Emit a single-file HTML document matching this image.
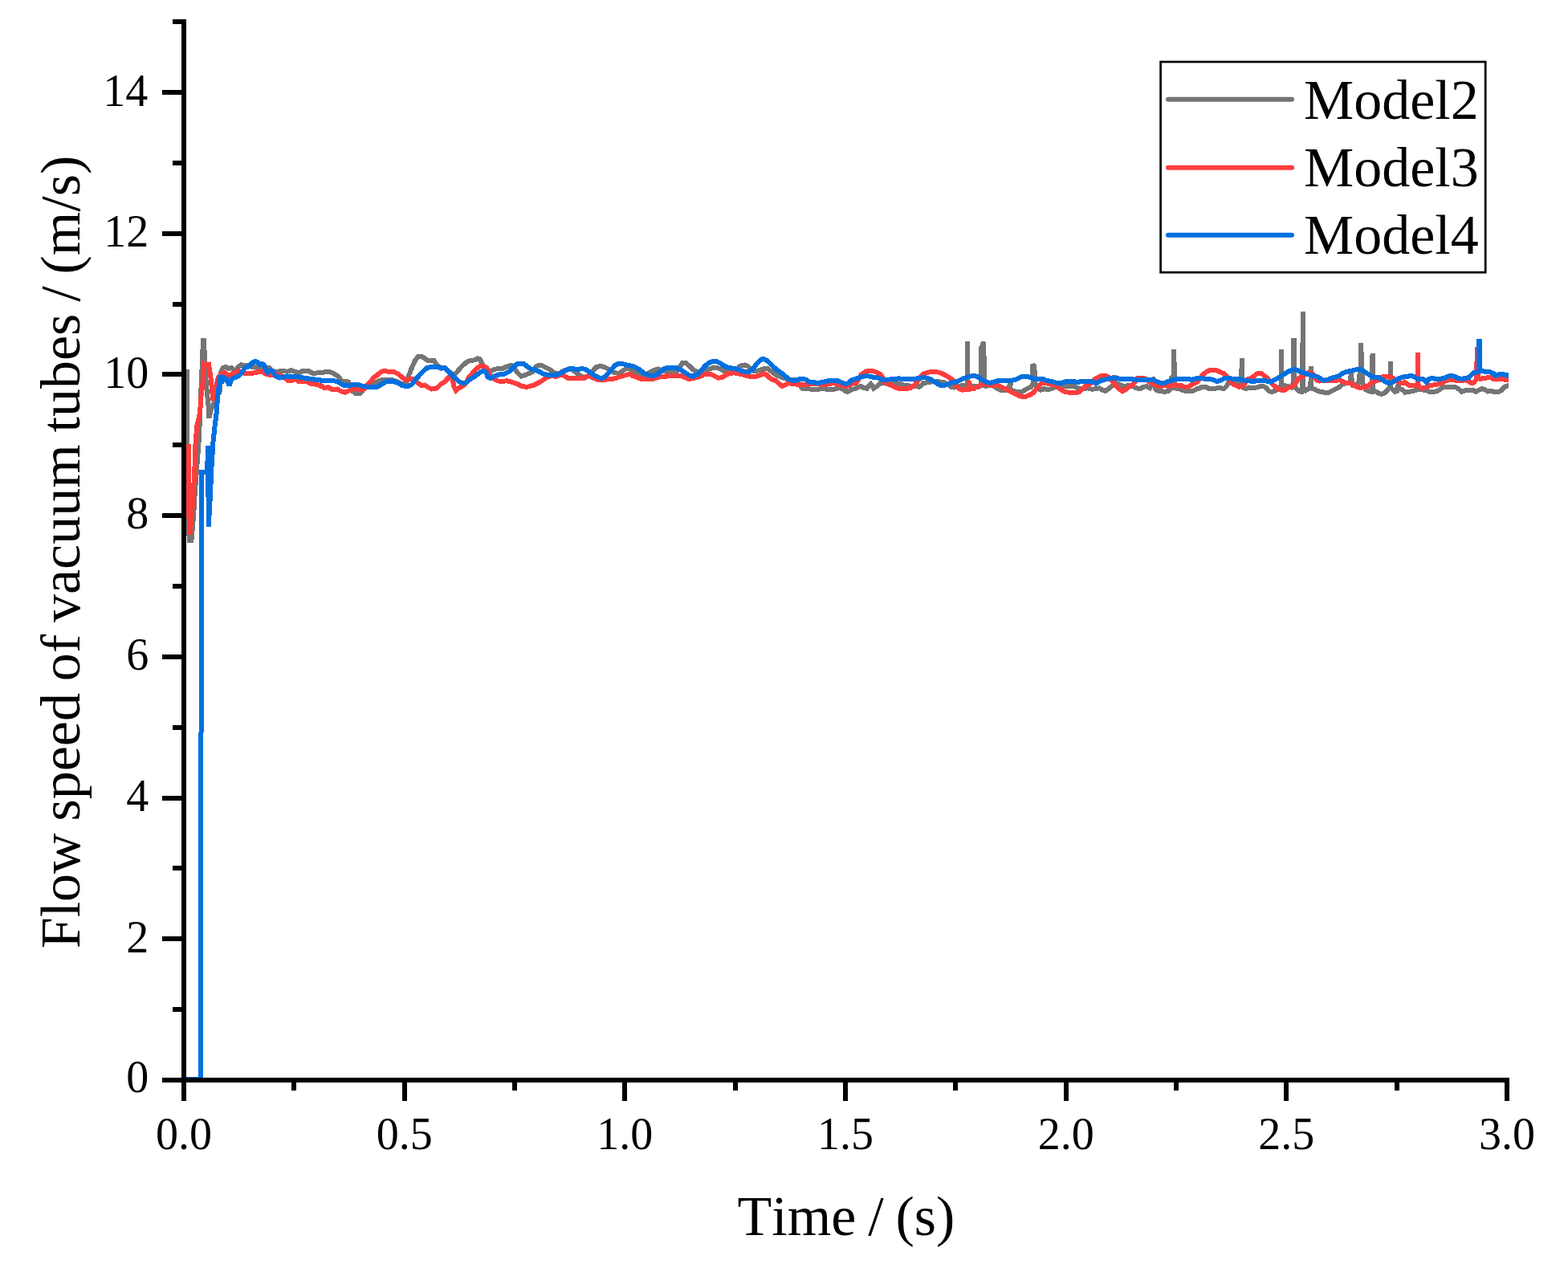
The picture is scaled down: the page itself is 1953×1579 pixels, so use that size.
<!DOCTYPE html>
<html lang="en">
<head>
<meta charset="utf-8">
<title>Flow speed of vacuum tubes</title>
<style>
html,body{margin:0;padding:0;background:#fff;}
body{width:1953px;height:1579px;overflow:hidden;}
svg{display:block;}
text{font-family:"Liberation Serif",serif;fill:#000;font-kerning:none;}
.tick{font-size:56px;}
.title{font-size:70px;word-spacing:-2.6px;}
.series{fill:none;stroke-width:6;stroke-linejoin:miter;stroke-miterlimit:2;stroke-linecap:butt;}
</style>
</head>
<body>
<svg width="1953" height="1579" viewBox="0 0 1953 1579">
<rect x="0" y="0" width="1953" height="1579" fill="#ffffff"/>

<defs><clipPath id="plotclip"><rect x="229" y="20" width="1650" height="1328"/></clipPath></defs>
<g class="series" clip-path="url(#plotclip)" shape-rendering="crispEdges">
<path d="M233.0,460.0 L233.2,640.0 L236.0,672.5 L238.5,672.5 L240.0,655.0 L241.2,640.0 L243.0,610.0 L245.0,585.0 L246.5,565.0 L248.0,544.0 L249.0,520.0 L250.0,495.0 L251.5,460.0 L253.0,424.0 L254.0,424.0 L255.5,460.0 L257.5,485.0 L259.5,505.0 L260.2,520.4 L263.0,510.0 L267.0,500.0 L273.5,488.0 L274.8,464.0 L278.0,458.0 L281.0,457.0 L285.0,459.0 L288.6,458.0 L292.7,463.0 L296.0,458.0 L300.4,454.0 L302.6,455.2 L307.7,455.2 L311.8,456.2 L315.4,457.3 L325.6,457.3 L328.7,457.8 L331.7,458.3 L335.8,458.3 L338.4,460.8 L343.5,463.4 L348.6,462.2 L353.8,462.1 L357.9,462.9 L362.5,461.1 L369.1,463.4 L372.7,464.4 L376.8,462.1 L384.5,462.1 L389.6,464.9 L392.2,464.7 L394.7,464.4 L399.3,464.4 L400.0,464.5 L403.8,463.3 L408.4,462.6 L413.8,464.1 L420.0,467.9 L423.0,470.3 L425.3,474.9 L430.7,474.9 L433.8,475.6 L436.1,479.5 L438.4,486.4 L443.0,490.2 L447.6,490.2 L452.2,485.6 L456.8,480.2 L463.0,478.7 L469.1,475.6 L475.3,473.3 L480.6,472.6 L488.3,472.9 L493.7,474.9 L499.8,477.9 L506.0,477.2 L509.1,467.9 L512.9,458.0 L516.7,449.5 L520.6,444.1 L524.4,443.8 L528.3,445.7 L532.1,448.7 L536.7,448.7 L540.6,449.1 L543.6,454.1 L549.0,458.7 L550.0,458.7 L554.6,458.0 L559.2,462.6 L565.4,467.2 L569.2,463.3 L573.0,458.7 L577.6,454.1 L582.3,450.3 L586.9,448.7 L591.5,448.4 L595.3,446.4 L597.6,447.2 L599.9,451.8 L603.0,458.0 L606.8,461.8 L611.4,461.8 L615.3,460.3 L620.7,458.7 L626.8,458.7 L631.4,456.4 L636.0,454.9 L639.1,455.7 L642.2,461.0 L646.0,465.6 L649.1,468.7 L653.7,467.2 L659.1,464.9 L663.7,462.6 L667.5,456.4 L671.4,454.9 L675.2,455.3 L680.6,458.0 L685.2,460.3 L689.8,464.1 L694.4,465.6 L699.0,464.5 L700.0,462.6 L704.6,460.7 L710.0,459.7 L713.8,461.0 L719.2,465.3 L723.8,468.7 L728.4,470.4 L733.0,468.3 L736.1,464.5 L739.2,461.0 L743.0,457.2 L747.6,456.0 L752.2,456.8 L757.6,459.5 L761.4,461.8 L765.3,464.1 L770.7,464.9 L773.7,463.3 L776.8,461.0 L780.6,459.1 L784.5,459.5 L788.3,461.8 L792.2,464.9 L796.0,466.4 L801.4,467.2 L806.0,465.6 L810.6,463.3 L815.2,461.0 L819.8,459.5 L824.4,461.0 L830.6,463.3 L838.2,463.3 L842.9,462.6 L845.9,458.0 L849.0,453.4 L850.0,451.8 L853.8,451.8 L857.7,454.9 L861.5,458.7 L865.4,461.8 L870.0,463.3 L875.3,467.2 L879.2,463.3 L883.0,459.5 L888.4,458.0 L893.0,458.0 L897.6,459.5 L902.2,462.6 L906.8,463.3 L911.4,464.9 L916.1,463.3 L920.7,456.4 L923.7,454.9 L927.6,454.5 L931.4,456.0 L934.5,458.7 L938.3,461.8 L942.2,461.8 L946.8,461.0 L951.4,459.1 L956.0,458.7 L959.8,461.8 L963.7,464.9 L968.3,467.9 L972.9,469.5 L979.0,471.8 L984.4,472.6 L989.8,473.3 L994.4,477.2 L999.0,483.3 L1000.0,484.1 L1006.1,484.1 L1010.8,484.8 L1020.0,484.8 L1023.8,483.3 L1029.2,484.8 L1039.9,484.5 L1044.5,483.3 L1049.9,484.1 L1053.0,487.2 L1055.3,487.9 L1058.4,486.4 L1061.4,484.8 L1065.3,484.1 L1069.1,481.8 L1072.2,481.0 L1076.0,483.3 L1079.9,483.7 L1082.2,480.2 L1084.5,477.9 L1086.4,480.2 L1088.3,483.7 L1092.2,481.0 L1096.0,477.9 L1099.8,477.2 L1103.7,477.2 L1107.5,478.7 L1111.4,477.9 L1115.2,477.2 L1119.8,477.5 L1124.4,479.1 L1128.3,480.2 L1134.4,480.6 L1140.0,481.0 L1144.4,481.8 L1147.5,480.2 L1149.8,477.9 L1150.0,477.2 L1154.6,476.4 L1159.2,475.6 L1165.4,474.9 L1171.5,475.6 L1176.1,476.4 L1180.7,478.7 L1184.6,481.8 L1188.4,482.5 L1193.0,481.8 L1197.6,480.2 L1202.2,479.9 L1205.1,479.5 L1205.1,425.0 L1205.1,479.5 L1208.4,480.2 L1213.7,481.0 L1219.1,481.8 L1221.8,480.2 L1221.8,434.9 L1225.3,425.7 L1225.7,457.2 L1226.0,480.2 L1228.3,481.0 L1232.9,479.5 L1236.8,480.2 L1241.4,483.3 L1246.0,485.6 L1251.4,486.4 L1256.0,484.8 L1258.7,474.6 L1258.3,484.8 L1262.9,487.2 L1268.3,488.3 L1272.9,487.9 L1276.7,485.6 L1280.6,483.3 L1284.4,481.8 L1286.7,477.2 L1286.0,453.9 L1287.9,456.0 L1289.0,465.6 L1289.4,477.2 L1290.6,481.0 L1292.9,484.1 L1295.9,485.6 L1299.8,484.8 L1300.0,484.1 L1304.6,484.8 L1308.4,484.5 L1313.1,482.5 L1316.9,481.0 L1323.0,481.0 L1327.6,481.4 L1332.3,481.0 L1336.9,481.0 L1341.5,482.9 L1346.1,484.1 L1350.7,484.1 L1355.3,483.3 L1359.9,484.8 L1364.5,484.1 L1369.1,483.3 L1373.0,485.6 L1376.8,486.8 L1379.9,484.8 L1383.7,481.8 L1386.8,479.5 L1387.9,467.2 L1389.1,478.7 L1392.2,477.9 L1396.0,479.9 L1399.8,481.0 L1406.0,480.2 L1410.6,481.0 L1415.2,483.3 L1419.8,484.1 L1424.4,481.8 L1428.3,481.0 L1432.1,483.3 L1435.2,477.2 L1435.8,469.9 L1437.5,477.2 L1439.0,484.1 L1441.3,486.4 L1445.9,486.8 L1449.8,487.9 L1450.0,487.9 L1454.6,487.2 L1457.3,484.8 L1458.6,471.0 L1461.5,467.9 L1462.0,435.1 L1462.6,454.1 L1462.8,483.3 L1469.2,484.1 L1473.0,486.4 L1479.2,486.8 L1485.3,487.2 L1489.9,484.8 L1494.5,483.3 L1497.6,481.8 L1502.2,482.2 L1506.1,484.1 L1511.4,484.1 L1516.1,483.3 L1520.7,483.3 L1524.5,484.1 L1527.6,481.0 L1529.9,477.2 L1536.0,477.2 L1542.2,477.2 L1545.6,477.2 L1546.4,463.3 L1546.9,446.2 L1547.4,463.3 L1547.5,477.2 L1549.1,483.3 L1552.2,484.1 L1556.0,482.5 L1560.6,483.3 L1565.2,482.5 L1569.8,481.0 L1572.9,481.0 L1576.7,482.5 L1580.6,487.2 L1583.6,487.9 L1587.5,487.2 L1591.3,484.1 L1595.5,481.0 L1596.1,435.0 L1596.3,481.0 L1599.8,480.2 L1600.0,480.2 L1604.6,481.0 L1608.4,482.5 L1610.8,477.2 L1611.1,424.2 L1611.7,424.2 L1612.1,438.8 L1612.3,481.0 L1615.4,484.8 L1618.4,487.2 L1621.5,487.9 L1622.4,438.8 L1622.9,391.1 L1623.2,391.1 L1623.3,484.8 L1626.1,486.4 L1629.2,484.1 L1632.3,483.3 L1633.0,456.2 L1633.4,483.3 L1634.6,484.1 L1637.6,484.8 L1641.5,487.2 L1646.1,487.9 L1650.7,489.1 L1655.3,488.7 L1659.9,486.4 L1664.5,484.1 L1668.4,481.8 L1672.2,478.7 L1676.8,477.2 L1681.4,477.2 L1683.0,463.8 L1683.9,477.2 L1684.9,479.9 L1688.3,479.5 L1692.2,477.2 L1694.9,454.1 L1695.3,427.4 L1695.8,454.1 L1697.4,477.2 L1700.6,484.8 L1704.5,487.2 L1708.7,487.9 L1709.5,443.4 L1710.0,443.4 L1710.2,487.2 L1712.9,487.2 L1716.7,489.5 L1720.6,491.0 L1724.4,489.5 L1728.3,485.6 L1731.0,482.5 L1732.0,450.4 L1732.5,482.5 L1733.6,484.1 L1737.5,487.9 L1739.8,487.2 L1741.1,479.1 L1742.9,484.1 L1745.9,484.8 L1749.8,488.3 L1750.0,488.7 L1754.6,487.9 L1759.2,487.2 L1763.8,485.6 L1768.4,484.8 L1773.0,485.6 L1776.9,486.4 L1780.7,487.9 L1785.3,487.9 L1789.9,487.2 L1793.8,484.8 L1797.6,481.8 L1802.2,482.2 L1807.6,481.8 L1812.2,481.8 L1816.1,484.1 L1820.7,487.9 L1824.5,486.4 L1827.6,485.6 L1830.6,486.4 L1834.5,485.6 L1838.3,487.9 L1842.2,485.6 L1846.0,484.1 L1849.1,484.8 L1852.9,487.5 L1857.5,487.2 L1862.1,487.9 L1866.7,487.9 L1870.6,485.6 L1874.4,481.8 L1879.0,479.9 L1882.1,479.5" stroke="#757575"/>
<path d="M235.3,553.0 L235.3,640.0 L236.4,665.8 L238.5,645.0 L240.5,620.0 L242.6,580.0 L243.3,556.0 L245.2,531.0 L248.0,520.0 L249.8,505.0 L250.3,495.0 L252.2,480.0 L254.3,453.0 L257.5,455.0 L260.0,454.0 L261.0,460.0 L262.0,466.0 L263.5,480.0 L265.4,498.5 L268.0,485.0 L272.0,470.0 L276.0,465.0 L280.4,464.0 L285.0,468.5 L290.0,465.0 L296.8,462.0 L300.0,464.0 L304.1,464.7 L314.8,464.7 L319.5,463.7 L320.5,462.6 L326.6,462.6 L330.7,465.5 L336.9,467.0 L344.0,466.0 L351.2,468.5 L358.9,473.9 L364.0,473.9 L368.1,471.6 L371.7,474.7 L381.9,474.7 L387.0,477.7 L394.7,478.8 L399.3,480.6 L400.0,480.2 L403.8,483.3 L408.4,482.2 L413.8,484.8 L420.0,484.5 L424.6,487.2 L430.0,488.7 L434.6,486.4 L439.9,484.1 L444.5,484.1 L449.9,485.6 L453.8,484.1 L459.9,477.2 L465.3,470.3 L470.7,466.4 L475.3,462.6 L480.6,462.2 L484.5,463.0 L490.6,463.0 L496.0,465.6 L501.4,470.3 L506.0,473.3 L511.4,471.8 L515.2,471.8 L519.8,476.4 L524.4,479.9 L529.0,479.5 L533.6,482.5 L537.5,484.5 L542.1,484.1 L545.9,481.8 L549.4,478.3 L550.0,477.9 L554.6,474.9 L558.4,470.3 L561.5,468.7 L563.7,471.8 L565.4,481.0 L568.0,486.5 L570.7,483.7 L574.6,481.6 L577.6,480.1 L580.7,476.8 L583.8,469.5 L588.4,464.9 L593.0,459.5 L597.6,456.0 L602.2,456.0 L606.1,458.0 L609.1,464.1 L611.4,469.5 L615.3,471.8 L620.7,474.5 L626.8,474.9 L631.4,474.1 L636.8,475.6 L643.7,477.9 L649.1,480.6 L654.5,481.8 L659.1,481.4 L665.2,479.5 L671.4,476.4 L677.5,472.6 L682.1,469.5 L686.7,468.3 L692.9,468.7 L699.4,466.8 L700.0,466.4 L703.8,468.7 L707.7,471.0 L713.8,471.4 L720.0,471.4 L726.1,471.0 L730.7,468.7 L734.6,468.3 L738.4,470.3 L743.8,472.6 L749.2,473.3 L753.8,472.9 L759.9,471.8 L766.1,471.4 L770.7,469.5 L776.8,467.9 L781.4,466.4 L784.5,465.6 L787.6,467.9 L792.2,469.5 L798.3,471.8 L803.7,472.2 L809.1,471.8 L813.7,471.8 L818.3,470.3 L822.9,469.1 L829.0,468.7 L835.2,467.9 L842.1,467.9 L849.4,468.3 L850.0,468.7 L853.8,470.3 L857.7,471.8 L862.3,471.4 L866.9,470.3 L871.5,468.7 L876.1,466.4 L880.7,465.6 L885.3,466.0 L889.9,468.3 L894.5,470.6 L899.2,470.3 L903.8,467.2 L908.4,464.9 L913.0,464.1 L919.1,465.3 L925.3,466.4 L931.4,468.3 L936.0,469.5 L942.2,468.7 L946.8,467.2 L951.4,465.3 L954.5,466.4 L958.3,470.3 L962.1,472.6 L966.7,474.1 L970.6,477.9 L974.4,481.0 L977.5,479.5 L982.1,477.2 L986.7,477.9 L992.1,478.7 L999.4,479.1 L1000.0,479.1 L1004.6,478.7 L1009.2,478.3 L1015.4,477.9 L1021.5,478.7 L1027.6,479.1 L1033.0,477.9 L1038.4,477.2 L1043.0,477.9 L1047.6,480.2 L1053.8,481.0 L1058.4,479.5 L1063.0,477.2 L1066.8,476.8 L1069.5,472.2 L1072.6,466.4 L1077.6,463.2 L1082.2,461.8 L1086.0,461.8 L1090.6,463.0 L1094.5,464.9 L1097.5,467.2 L1099.8,471.0 L1101.4,475.6 L1104.5,477.9 L1108.3,478.3 L1111.4,480.2 L1115.2,482.5 L1119.0,483.7 L1124.4,483.7 L1130.6,483.7 L1135.2,482.5 L1139.0,479.5 L1142.9,474.9 L1145.9,469.5 L1149.4,466.0 L1150.0,465.6 L1154.6,464.1 L1159.2,463.0 L1165.4,463.0 L1170.7,464.1 L1176.1,466.4 L1180.7,469.1 L1184.6,471.8 L1188.4,475.6 L1191.5,481.0 L1194.5,484.1 L1199.2,485.6 L1203.8,485.2 L1206.5,484.5 L1206.8,473.9 L1207.2,484.5 L1208.4,484.5 L1213.0,484.1 L1216.8,481.8 L1220.7,480.2 L1223.7,478.7 L1226.8,477.9 L1230.6,478.7 L1234.5,479.9 L1239.1,480.2 L1243.7,480.2 L1248.3,482.5 L1253.7,484.8 L1259.1,487.5 L1263.7,490.2 L1268.3,492.5 L1272.9,494.1 L1277.5,493.7 L1282.1,492.1 L1286.7,489.5 L1290.6,484.8 L1294.4,480.2 L1297.5,477.2 L1299.8,476.0 L1300.0,476.4 L1306.1,477.9 L1311.5,479.1 L1316.1,481.0 L1320.7,484.5 L1325.3,487.5 L1330.7,488.7 L1336.1,488.7 L1340.7,489.1 L1344.5,487.9 L1348.4,484.1 L1352.2,481.0 L1356.8,478.7 L1360.7,475.6 L1363.7,471.8 L1367.6,470.3 L1371.4,467.9 L1375.3,467.6 L1379.1,468.7 L1382.9,471.0 L1386.0,475.6 L1389.9,480.2 L1393.7,484.1 L1398.3,487.2 L1402.2,484.8 L1406.0,481.8 L1410.6,479.5 L1413.7,475.6 L1415.2,471.8 L1418.3,470.6 L1422.9,470.6 L1426.7,471.8 L1430.6,474.9 L1434.4,477.2 L1438.2,478.7 L1442.1,480.6 L1445.9,481.0 L1449.8,479.9 L1450.0,479.5 L1454.6,481.0 L1459.2,480.2 L1465.4,479.9 L1471.5,480.2 L1475.3,481.8 L1480.0,482.2 L1483.8,479.5 L1488.4,477.2 L1491.5,475.6 L1494.5,471.0 L1498.4,466.4 L1502.2,463.3 L1506.1,461.4 L1510.7,460.7 L1515.3,461.4 L1519.9,463.3 L1523.7,464.9 L1527.6,467.9 L1530.6,471.0 L1532.9,475.6 L1536.0,478.7 L1539.9,480.2 L1543.7,481.8 L1547.5,481.0 L1550.6,477.2 L1553.7,472.6 L1557.5,471.0 L1561.4,468.7 L1565.2,465.6 L1568.3,464.9 L1571.4,465.3 L1574.4,467.9 L1578.3,470.3 L1581.3,474.1 L1585.2,478.7 L1589.0,481.8 L1592.9,484.8 L1596.7,486.0 L1599.8,485.6 L1600.0,485.6 L1603.8,483.3 L1607.7,481.8 L1611.5,480.2 L1614.6,475.6 L1617.7,471.0 L1620.0,469.5 L1623.8,467.9 L1626.9,464.9 L1630.7,464.1 L1633.8,464.9 L1636.9,467.9 L1639.9,473.3 L1643.8,474.5 L1649.2,474.1 L1653.8,474.1 L1658.4,474.1 L1663.7,473.7 L1669.1,473.3 L1673.0,475.6 L1676.8,477.2 L1681.4,477.2 L1684.5,477.9 L1688.3,481.0 L1692.2,482.5 L1696.8,482.5 L1702.2,481.8 L1706.0,478.7 L1709.8,475.6 L1714.4,474.1 L1717.5,473.3 L1721.4,469.5 L1726.0,468.7 L1730.6,468.7 L1734.4,470.3 L1737.5,472.6 L1741.3,475.6 L1745.9,477.2 L1749.8,476.8 L1750.0,476.4 L1754.6,479.5 L1759.2,480.2 L1763.1,480.2 L1765.6,478.3 L1765.6,439.3 L1766.0,446.4 L1766.1,478.3 L1768.4,481.8 L1771.5,484.1 L1775.3,482.5 L1780.7,480.2 L1785.3,479.5 L1789.9,478.7 L1794.5,477.2 L1799.2,474.9 L1803.8,473.3 L1808.4,472.6 L1811.4,473.3 L1815.3,474.5 L1820.7,474.1 L1825.3,473.3 L1829.1,474.9 L1832.9,477.2 L1836.0,476.4 L1838.9,471.8 L1840.0,432.4 L1840.6,469.5 L1843.7,471.8 L1848.3,471.0 L1852.9,470.3 L1856.8,469.9 L1859.8,471.8 L1863.7,472.6 L1867.5,471.4 L1871.4,471.8 L1876.0,473.3 L1879.0,473.3 L1882.1,473.3" stroke="#FF3D3D"/>
<path d="M229.0,1344.0 L249.9,1344.0 L251.0,588.0 L258.0,588.0 L259.2,555.1 L259.7,655.9 L261.0,633.0 L262.0,615.0 L263.0,592.0 L264.0,571.0 L265.0,561.0 L265.3,551.7 L267.5,531.2 L269.5,515.8 L270.6,500.5 L271.6,490.2 L272.5,482.6 L273.3,473.0 L274.2,467.3 L275.8,477.3 L278.9,470.2 L282.1,472.0 L285.6,480.2 L288.4,472.5 L291.3,470.5 L296.8,468.5 L300.0,465.5 L305.1,458.3 L310.2,456.0 L314.3,451.6 L317.9,450.1 L320.5,450.6 L323.0,453.7 L326.6,453.2 L329.2,454.7 L331.7,461.9 L333.3,463.9 L336.9,461.4 L339.9,462.9 L343.5,468.5 L348.6,470.6 L353.8,469.0 L361.4,468.5 L371.7,469.5 L381.9,471.1 L392.2,472.6 L399.3,473.4 L400.0,474.1 L407.7,474.5 L415.4,474.1 L421.5,475.6 L426.9,479.5 L434.6,480.2 L439.9,479.1 L446.1,479.1 L452.2,481.0 L461.4,482.2 L469.1,482.2 L475.3,478.7 L481.4,474.9 L488.3,474.5 L494.5,476.4 L501.4,480.2 L507.5,481.4 L512.9,478.7 L519.0,471.0 L526.7,462.6 L532.1,458.0 L538.2,456.8 L544.4,457.2 L549.4,458.0 L550.0,458.0 L554.6,458.7 L559.2,463.3 L565.4,469.5 L571.5,474.9 L576.1,477.2 L580.7,476.4 L585.3,472.6 L591.5,468.7 L597.6,464.1 L602.2,461.8 L605.3,463.3 L607.6,469.5 L610.7,471.0 L615.3,468.7 L621.4,466.4 L628.3,465.6 L634.5,462.6 L639.1,458.0 L643.7,453.4 L649.1,452.6 L652.9,453.4 L657.5,457.2 L661.4,459.5 L666.7,460.3 L671.4,462.6 L676.7,465.6 L682.1,466.8 L688.2,467.2 L694.4,466.4 L699.4,464.1 L700.0,464.1 L704.6,461.0 L710.0,459.1 L715.4,459.5 L720.0,459.9 L724.6,459.1 L729.2,459.9 L734.6,463.3 L739.9,467.2 L744.5,469.9 L749.2,471.0 L753.0,469.5 L757.6,464.9 L762.2,459.5 L766.1,454.9 L769.9,453.0 L775.3,453.0 L780.6,454.5 L786.8,455.7 L792.2,457.6 L797.5,461.0 L802.2,464.9 L807.5,467.2 L812.9,467.9 L817.5,467.2 L822.1,463.3 L826.7,459.5 L830.6,458.0 L836.7,457.6 L842.1,458.0 L845.9,459.5 L849.4,461.4 L850.0,461.8 L854.6,464.9 L859.2,467.9 L863.8,468.7 L868.4,466.4 L873.0,461.8 L877.6,456.4 L882.3,452.2 L886.9,450.3 L893.0,450.3 L897.6,452.6 L902.2,455.7 L907.6,458.0 L913.7,458.7 L919.1,459.9 L923.7,461.8 L929.1,463.3 L933.7,463.0 L937.6,459.5 L942.2,453.4 L946.8,448.7 L950.6,446.8 L954.5,448.4 L959.1,452.6 L963.7,457.2 L968.3,461.0 L972.9,464.1 L977.5,467.9 L982.1,471.8 L986.7,473.7 L991.3,473.7 L995.9,472.2 L999.4,472.2 L1000.0,472.2 L1003.8,472.6 L1007.7,475.6 L1013.8,476.4 L1020.0,476.8 L1026.1,475.6 L1032.3,474.1 L1038.4,473.7 L1043.8,474.1 L1048.4,476.4 L1053.0,478.3 L1056.8,477.2 L1060.7,473.3 L1065.3,471.8 L1069.9,470.3 L1074.5,468.7 L1079.9,468.3 L1084.5,468.7 L1089.1,470.3 L1094.5,470.6 L1098.3,472.6 L1102.2,473.3 L1107.5,472.6 L1113.7,471.8 L1119.8,471.4 L1126.7,472.2 L1134.4,472.2 L1142.1,471.4 L1149.4,470.3 L1150.0,470.3 L1154.6,470.6 L1159.2,472.6 L1163.8,475.2 L1168.4,478.3 L1172.3,480.2 L1176.1,480.2 L1180.7,478.3 L1185.3,476.4 L1190.7,475.6 L1196.1,473.3 L1200.7,471.0 L1205.3,469.5 L1209.9,468.3 L1213.7,467.9 L1217.6,469.1 L1221.4,471.8 L1225.3,474.1 L1229.1,476.0 L1233.7,476.8 L1238.3,475.6 L1242.2,474.1 L1246.8,474.5 L1252.2,474.1 L1259.1,473.7 L1263.7,473.3 L1268.3,471.0 L1272.1,469.1 L1276.0,468.7 L1279.8,469.1 L1284.4,470.6 L1289.0,471.8 L1294.4,472.2 L1299.4,472.2 L1300.0,472.6 L1304.6,474.1 L1309.2,474.9 L1315.4,476.8 L1321.5,477.2 L1326.1,475.6 L1330.7,474.9 L1336.9,474.9 L1341.5,476.0 L1346.1,475.2 L1352.2,474.9 L1358.4,474.9 L1362.2,475.6 L1365.3,477.5 L1369.1,474.9 L1373.7,473.3 L1379.9,471.8 L1384.5,471.0 L1389.1,470.6 L1395.2,471.8 L1401.4,472.2 L1407.5,471.8 L1412.1,472.6 L1418.3,473.3 L1424.4,472.6 L1430.6,472.6 L1436.7,473.3 L1442.1,475.6 L1445.9,476.8 L1449.4,477.2 L1450.0,477.2 L1453.8,475.6 L1457.7,474.1 L1462.3,472.6 L1466.9,471.8 L1473.0,471.8 L1479.2,471.8 L1483.8,472.9 L1488.4,471.8 L1493.0,470.6 L1497.6,471.0 L1502.2,472.2 L1506.8,471.8 L1511.4,473.3 L1516.1,474.9 L1520.7,473.3 L1525.3,471.0 L1529.9,470.6 L1534.5,471.8 L1540.6,471.8 L1546.0,472.6 L1551.4,474.1 L1557.5,474.5 L1563.7,474.5 L1568.3,473.7 L1574.4,473.7 L1579.0,474.9 L1582.9,475.6 L1586.7,473.3 L1591.3,471.0 L1595.9,467.9 L1599.4,466.0 L1600.0,465.6 L1604.6,462.6 L1608.4,461.0 L1612.3,459.9 L1616.1,461.0 L1620.7,463.3 L1626.1,464.9 L1630.7,466.4 L1636.1,467.9 L1641.5,469.5 L1645.3,471.8 L1649.2,473.7 L1653.8,472.6 L1658.4,471.0 L1663.0,469.5 L1667.6,468.3 L1672.2,464.9 L1676.8,463.0 L1681.4,462.2 L1686.0,461.0 L1690.6,459.9 L1694.5,460.3 L1699.1,462.6 L1703.7,465.6 L1708.3,468.7 L1712.9,469.9 L1717.5,470.3 L1721.4,472.6 L1726.0,475.6 L1729.8,477.2 L1733.6,476.4 L1737.5,474.1 L1741.3,471.8 L1745.9,469.9 L1749.4,469.1 L1750.0,469.1 L1753.8,468.7 L1757.7,467.9 L1761.5,469.1 L1765.4,471.8 L1770.0,471.8 L1773.8,472.6 L1776.9,475.9 L1780.0,471.8 L1783.0,471.0 L1788.4,471.8 L1793.8,471.8 L1798.4,471.0 L1803.0,468.7 L1807.6,467.9 L1812.2,468.7 L1816.1,471.0 L1820.7,471.8 L1825.3,471.0 L1829.9,469.9 L1832.9,466.4 L1836.0,464.1 L1839.9,463.3 L1842.4,461.8 L1842.5,422.0 L1842.7,461.8 L1846.8,462.2 L1851.4,463.0 L1856.0,463.3 L1859.8,464.9 L1862.9,467.9 L1866.7,466.4 L1871.4,466.0 L1876.0,467.2 L1879.0,467.6 L1882.1,467.6" stroke="#0070E0"/>
</g>
<g stroke="#000" stroke-width="6" fill="none" stroke-linecap="butt" shape-rendering="crispEdges">
<line x1="229.0" y1="24.0" x2="229.0" y2="1348.0"/>
<line x1="226.0" y1="1345.0" x2="1880.0" y2="1345.0"/>
<line x1="202.0" y1="1345.0" x2="229.0" y2="1345.0"/>
<line x1="215.0" y1="1257.1" x2="229.0" y2="1257.1"/>
<line x1="202.0" y1="1169.3" x2="229.0" y2="1169.3"/>
<line x1="215.0" y1="1081.4" x2="229.0" y2="1081.4"/>
<line x1="202.0" y1="993.5" x2="229.0" y2="993.5"/>
<line x1="215.0" y1="905.7" x2="229.0" y2="905.7"/>
<line x1="202.0" y1="817.8" x2="229.0" y2="817.8"/>
<line x1="215.0" y1="729.9" x2="229.0" y2="729.9"/>
<line x1="202.0" y1="642.1" x2="229.0" y2="642.1"/>
<line x1="215.0" y1="554.2" x2="229.0" y2="554.2"/>
<line x1="202.0" y1="466.3" x2="229.0" y2="466.3"/>
<line x1="215.0" y1="378.5" x2="229.0" y2="378.5"/>
<line x1="202.0" y1="290.6" x2="229.0" y2="290.6"/>
<line x1="215.0" y1="202.7" x2="229.0" y2="202.7"/>
<line x1="202.0" y1="114.9" x2="229.0" y2="114.9"/>
<line x1="215.0" y1="27.0" x2="229.0" y2="27.0"/>
<line x1="229.0" y1="1345.0" x2="229.0" y2="1371.1"/>
<line x1="366.3" y1="1345.0" x2="366.3" y2="1358.2"/>
<line x1="503.7" y1="1345.0" x2="503.7" y2="1371.1"/>
<line x1="641.0" y1="1345.0" x2="641.0" y2="1358.2"/>
<line x1="778.3" y1="1345.0" x2="778.3" y2="1371.1"/>
<line x1="915.7" y1="1345.0" x2="915.7" y2="1358.2"/>
<line x1="1053.0" y1="1345.0" x2="1053.0" y2="1371.1"/>
<line x1="1190.3" y1="1345.0" x2="1190.3" y2="1358.2"/>
<line x1="1327.7" y1="1345.0" x2="1327.7" y2="1371.1"/>
<line x1="1465.0" y1="1345.0" x2="1465.0" y2="1358.2"/>
<line x1="1602.3" y1="1345.0" x2="1602.3" y2="1371.1"/>
<line x1="1739.7" y1="1345.0" x2="1739.7" y2="1358.2"/>
<line x1="1877.0" y1="1345.0" x2="1877.0" y2="1371.1"/>
</g>
<g class="tick">
<text x="185.3" y="1360.4" text-anchor="end">0</text>
<text x="185.3" y="1185.5" text-anchor="end">2</text>
<text x="185.3" y="1009.7" text-anchor="end">4</text>
<text x="185.3" y="834.0" text-anchor="end">6</text>
<text x="185.3" y="658.3" text-anchor="end">8</text>
<text x="185.3" y="482.5" text-anchor="end">10</text>
<text x="185.3" y="306.8" text-anchor="end">12</text>
<text x="184.3" y="132.0" text-anchor="end">14</text>
<text x="229.0" y="1431.2" text-anchor="middle">0.0</text>
<text x="503.7" y="1431.2" text-anchor="middle">0.5</text>
<text x="778.3" y="1431.2" text-anchor="middle">1.0</text>
<text x="1053.0" y="1431.2" text-anchor="middle">1.5</text>
<text x="1327.7" y="1431.2" text-anchor="middle">2.0</text>
<text x="1602.3" y="1431.2" text-anchor="middle">2.5</text>
<text x="1877.0" y="1431.2" text-anchor="middle">3.0</text>
</g>
<text class="title" x="1054" y="1538.3" text-anchor="middle">Time / (s)</text>
<text class="title" transform="translate(98.6,687.5) rotate(-90)" text-anchor="middle">Flow speed of vacuum tubes / (m/s)</text>
<rect x="1445.6" y="77" width="404.6" height="262.2" fill="#fff" stroke="#000" stroke-width="2.7"/>
<line x1="1455" y1="123.7" x2="1609" y2="123.7" stroke="#757575" stroke-width="6" stroke-linecap="round"/>
<text class="title" x="1624" y="147.7">Model2</text>
<line x1="1455" y1="208.8" x2="1609" y2="208.8" stroke="#FF3D3D" stroke-width="6" stroke-linecap="round"/>
<text class="title" x="1624" y="231.8">Model3</text>
<line x1="1455" y1="292.8" x2="1609" y2="292.8" stroke="#0070E0" stroke-width="6" stroke-linecap="round"/>
<text class="title" x="1624" y="316.2">Model4</text>
</svg>
</body>
</html>
